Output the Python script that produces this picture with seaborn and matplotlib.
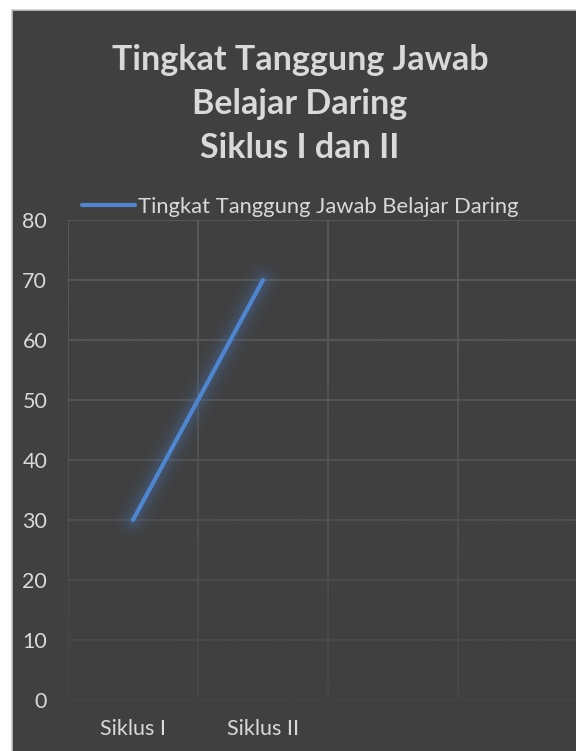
import numpy as np
import matplotlib
matplotlib.use("Agg")
import matplotlib.pyplot as plt
import matplotlib.patheffects as pe
from matplotlib.lines import Line2D
from matplotlib.patches import Rectangle
import seaborn as sns
import pandas as pd

# ---- data ----
categories = ["Siklus I", "Siklus II"]
values = [30, 70]
series_name = "Tingkat Tanggung Jawab Belajar Daring"
title_lines = ["Tingkat Tanggung Jawab", "Belajar Daring", "Siklus I dan II"]
y_ticks = [0, 10, 20, 30, 40, 50, 60, 70, 80]

BG = "#404040"
TXT = "#d9d9d9"
GRID = "#5a5a5a"
LINE = "#4f86d1"

sns.set_theme(style="dark")
plt.rcParams["font.family"] = ["Lato", "DejaVu Sans"]

W, H = 576, 751
fig = plt.figure(figsize=(W / 100, H / 100), dpi=100, facecolor="white")

# dark chart area (cropped Excel chart)
fig.patches.append(Rectangle((12 / W, -0.01), 1 - 12 / W + 0.01, 1 - 10 / H + 0.01,
                             transform=fig.transFigure, facecolor=BG,
                             edgecolor="#c8c8c8", linewidth=1.2, zorder=-10))

ax_left, ax_right = 68 / W, 1.0
ax_top, ax_bot = 1 - 220 / H, 1 - 700 / H
ax = fig.add_axes([ax_left, ax_bot, ax_right - ax_left, ax_top - ax_bot])
ax.set_facecolor("none")
ax.patch.set_visible(False)

df = pd.DataFrame({"cat": categories, "val": values})
sns.lineplot(data=df, x="cat", y="val", ax=ax, color=LINE, linewidth=3.0,
             solid_capstyle="round", zorder=3, legend=False)
line = ax.lines[0]
line.set_path_effects([
    pe.Stroke(linewidth=26, foreground=LINE, alpha=0.035),
    pe.Stroke(linewidth=19, foreground=LINE, alpha=0.05),
    pe.Stroke(linewidth=13, foreground=LINE, alpha=0.08),
    pe.Stroke(linewidth=8, foreground=LINE, alpha=0.11),
    pe.Normal(),
])

xmax = -0.5 + (W - 68) / 130.0
ax.set_xticks(range(len(categories)))
ax.set_xticklabels(categories)
ax.set_xticks(np.arange(-0.5, xmax + 1, 1.0), minor=True)
ax.set_yticks(y_ticks)
ax.set_xlabel("")
ax.set_ylabel("")

ax.grid(False)
ax.grid(True, axis="y", which="major", color=GRID, linewidth=1.3, zorder=0.5)
ax.grid(True, axis="x", which="minor", color=GRID, linewidth=1.3, zorder=0.5)
ax.set_axisbelow(True)
for s in ax.spines.values():
    s.set_visible(False)

ax.tick_params(axis="both", which="both", length=0)
ax.tick_params(axis="y", labelsize=15.5, labelcolor=TXT, pad=15)
ax.tick_params(axis="x", labelsize=15.5, labelcolor=TXT, pad=14)

# fade of gridlines toward the bottom
grad = np.zeros((200, 2, 4))
grad[..., :3] = matplotlib.colors.to_rgb(BG)
t = np.linspace(0, 1, 200)[:, None]  # 0 top -> 1 bottom
grad[..., 3] = 0.75 * t ** 1.6
ax.imshow(grad, extent=(0, 1, 0, 1), transform=ax.transAxes, aspect="auto",
          zorder=1, interpolation="bilinear")
ax.set_xlim(-0.5, xmax)
ax.set_ylim(0, 80)

# title
fig.text(300 / W, 1 - 44 / H, "\n".join(title_lines), ha="center", va="top",
         fontsize=24.5, fontweight="bold", color=TXT, linespacing=1.46)

# legend
handle = Line2D([], [], color=LINE, linewidth=3.0, solid_capstyle="round")
fig.legend([handle], [series_name], loc="center left",
           bbox_to_anchor=(82 / W, 1 - 207 / H), frameon=False,
           fontsize=15.8, labelcolor=TXT, handlelength=2.4, handletextpad=0.15,
           borderpad=0, borderaxespad=0)

fig.savefig("out.png", dpi=100, facecolor="white")
